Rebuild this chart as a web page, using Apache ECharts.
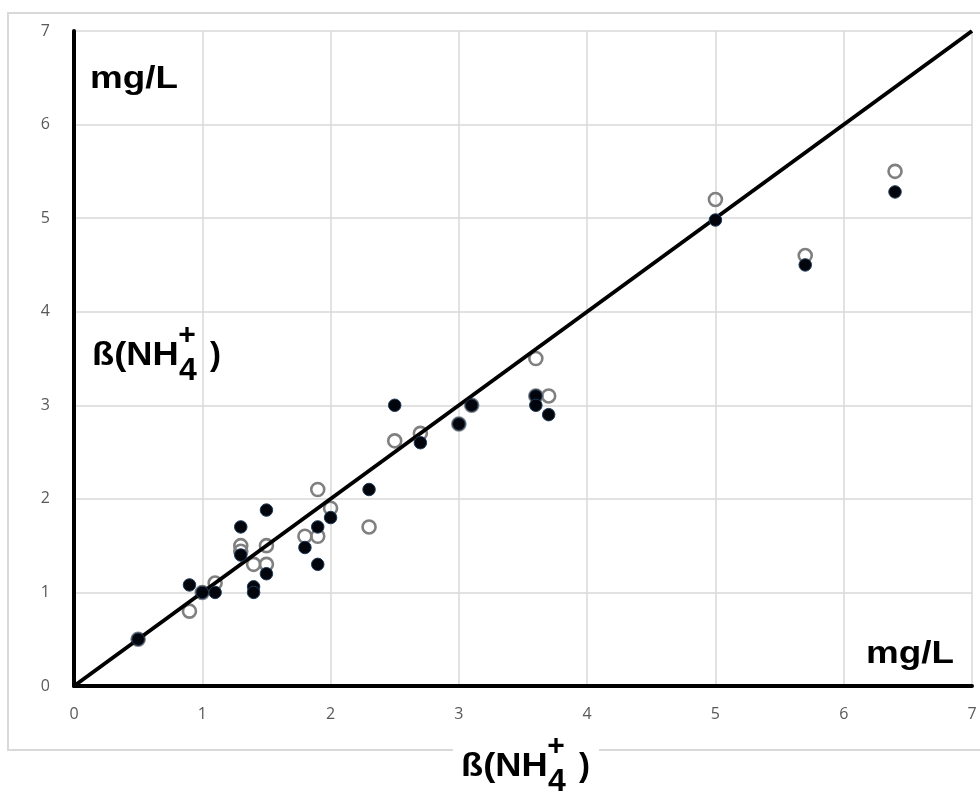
<!DOCTYPE html>
<html>
<head>
<meta charset="utf-8">
<script src="https://cdn.jsdelivr.net/npm/echarts@6/dist/echarts.min.js"></script>
<style>html,body{margin:0;padding:0;background:#fff;}#c{width:980px;height:794px;}</style>
</head>
<body>
<div id="c"></div>
<script>
var xTicks = [0, 1, 2, 3, 4, 5, 6, 7];
var yTicks = [0, 1, 2, 3, 4, 5, 6, 7];
var filledPoints = [
  [0.5, 0.5], [0.9, 1.08], [1.0, 1.0], [1.1, 1.0], [1.3, 1.7], [1.3, 1.4],
  [1.4, 1.06], [1.4, 1.0], [1.5, 1.88], [1.5, 1.2], [1.8, 1.48], [1.9, 1.7],
  [1.9, 1.3], [2.0, 1.8], [2.3, 2.1], [2.5, 3.0], [2.7, 2.6], [3.0, 2.8],
  [3.1, 3.0], [3.6, 3.1], [3.6, 3.0], [3.7, 2.9], [5.0, 4.98], [5.7, 4.5], [6.4, 5.28]
];
var openPoints = [
  [0.5, 0.5], [0.9, 0.8], [1.0, 1.0], [1.1, 1.1], [1.3, 1.5], [1.3, 1.44],
  [1.4, 1.3], [1.5, 1.5], [1.5, 1.3], [1.8, 1.6], [1.9, 2.1], [1.9, 1.6],
  [2.0, 1.9], [2.3, 1.7], [2.5, 2.62], [2.7, 2.7], [3.0, 2.8], [3.1, 3.0],
  [3.6, 3.5], [3.6, 3.1], [3.7, 3.1], [5.0, 5.2], [5.7, 4.6], [6.4, 5.5]
];
var refLine = [[0, 0], [7, 7]];
var unitLabel = 'mg/L';
var qtyMain = 'ß(NH';
var qtySup = '+';
var qtySub = '4';
var qtyClose = ')';

var chart = echarts.init(document.getElementById('c'), null, {renderer: 'canvas'});
var boldFont = '"Liberation Sans", Arial, sans-serif';

function qtyGroup(x, y) {
  return {
    type: 'group', x: x, y: y,
    children: [
      {type: 'text', z: 100, x: 0, y: 0, scaleX: 1.1, style: {text: qtyMain, font: 'bold 33px ' + boldFont, fill: '#000', textVerticalAlign: 'middle'}},
      {type: 'text', z: 100, x: 95, y: -20, style: {text: qtySup, font: 'bold 30px ' + boldFont, fill: '#000', textAlign: 'center', textVerticalAlign: 'middle'}},
      {type: 'text', z: 100, x: 96, y: 15, style: {text: qtySub, font: 'bold 32px ' + boldFont, fill: '#000', textAlign: 'center', textVerticalAlign: 'middle'}},
      {type: 'text', z: 100, x: 118, y: 0, style: {text: qtyClose, font: 'bold 33px ' + boldFont, fill: '#000', textVerticalAlign: 'middle'}}
    ]
  };
}

var option = {
  animation: false,
  backgroundColor: '#fff',
  grid: {left: 74, right: 8, top: 31, bottom: 108, containLabel: false},
  xAxis: {
    type: 'value', min: xTicks[0], max: xTicks[xTicks.length - 1], interval: 1,
    axisLine: {show: true, onZero: false, lineStyle: {color: '#000', width: 4}},
    axisTick: {show: false},
    axisLabel: {color: '#595959', fontSize: 16, margin: 20, fontFamily: '"Open Sans", sans-serif'},
    splitLine: {show: true, lineStyle: {color: '#d9d9d9', width: 1.5}}
  },
  yAxis: {
    type: 'value', min: yTicks[0], max: yTicks[yTicks.length - 1], interval: 1,
    axisLine: {show: true, onZero: false, lineStyle: {color: '#000', width: 4}},
    axisTick: {show: false},
    axisLabel: {color: '#595959', fontSize: 16, margin: 24, fontFamily: '"Open Sans", sans-serif'},
    splitLine: {show: true, lineStyle: {color: '#d9d9d9', width: 1.5}}
  },
  series: [
    {
      type: 'scatter', data: openPoints, symbol: 'circle', symbolSize: 13, z: 2,
      itemStyle: {color: 'rgba(255,255,255,0)', borderColor: '#808080', borderWidth: 2.6, opacity: 1}
    },
    {
      type: 'line', data: refLine, symbol: 'none', z: 3,
      lineStyle: {color: '#000', width: 4}
    },
    {
      type: 'scatter', data: filledPoints, symbol: 'circle', symbolSize: 12.5, z: 4,
      itemStyle: {color: '#02050c', borderColor: '#1d3a58', borderWidth: 1, opacity: 1}
    }
  ],
  graphic: [
    {type: 'rect', z: -10, shape: {x: 8, y: 13, width: 1000, height: 737}, style: {fill: 'none', stroke: '#d9d9d9', lineWidth: 2}},
    {type: 'text', x: 90, y: 95, scaleX: 1.15, z: 100, style: {text: unitLabel, font: 'bold 32px ' + boldFont, fill: '#000', textVerticalAlign: 'bottom'}},
    {type: 'text', x: 866, y: 670, scaleX: 1.15, z: 100, style: {text: unitLabel, font: 'bold 32px ' + boldFont, fill: '#000', textVerticalAlign: 'bottom'}},
    qtyGroup(92, 356),
    {type: 'rect', z: 90, shape: {x: 453, y: 738, width: 146, height: 56}, style: {fill: '#fff'}},
    qtyGroup(461, 767)
  ]
};
chart.setOption(option);
</script>
</body>
</html>
